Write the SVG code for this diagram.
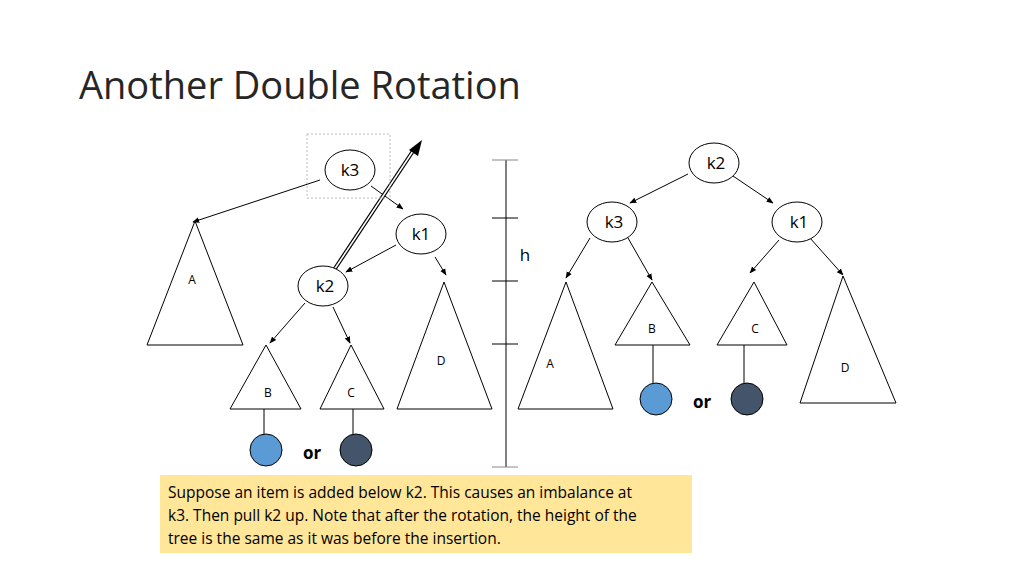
<svg xmlns="http://www.w3.org/2000/svg" width="1024" height="576" viewBox="0 0 1024 576">
<defs>
<marker id="ah" viewBox="0 0 10 10" refX="9" refY="5" markerWidth="7" markerHeight="7" orient="auto"><path d="M0,1 L10,5 L0,9 z" fill="#000"/></marker>
<style>
.n{fill:#fff;stroke:#000;stroke-width:1}
.t{fill:#fff;stroke:#000;stroke-width:1}
text{font-family:"Open Sans","Liberation Sans",sans-serif;fill:#000}
.k{font-size:17px;text-anchor:middle}
.s{font-size:12px;text-anchor:middle}
.e{stroke:#000;stroke-width:1;marker-end:url(#ah);fill:none}
.l{stroke:#000;stroke-width:1}
</style>
</defs>
<rect width="1024" height="576" fill="#fff"/>
<text x="79" y="99" style="font-size:38px;fill:#262626;font-family:'Open Sans','Liberation Sans',sans-serif">Another Double Rotation</text>
<g id="connectors">
<line class="e" x1="320" y1="180" x2="193" y2="222"/>
<line class="e" x1="371" y1="186" x2="403" y2="209"/>
<line class="e" x1="396" y1="245" x2="346" y2="272"/>
<line class="e" x1="435" y1="257" x2="446" y2="275"/>
<line class="e" x1="305" y1="303" x2="270" y2="343"/>
<line class="e" x1="333" y1="307" x2="350" y2="343"/>
<line class="l" x1="264" y1="409" x2="264" y2="434"/>
<line class="l" x1="353" y1="409" x2="353" y2="434"/>
<line class="e" x1="688" y1="174" x2="630" y2="203"/>
<line class="e" x1="733" y1="176" x2="773" y2="203"/>
<line class="e" x1="590" y1="238" x2="566" y2="278"/>
<line class="e" x1="628" y1="238" x2="652" y2="280"/>
<line class="e" x1="779" y1="240" x2="750" y2="273"/>
<line class="e" x1="810" y1="238" x2="843" y2="275"/>
<line class="l" x1="653" y1="345" x2="653" y2="383"/>
<line class="l" x1="744" y1="345" x2="744" y2="383"/>
<g id="bigarrow">
<line x1="334" y1="270" x2="415" y2="148" stroke="#000" stroke-width="4"/>
<line x1="334" y1="270" x2="415" y2="148" stroke="#fff" stroke-width="1.6"/>
<path d="M422,140 L418,156 L409,150 z" fill="#000"/>
</g>
</g>
<rect x="307" y="134" width="83" height="64" fill="none" stroke="#aaa" stroke-width="0.8" stroke-dasharray="2,2"/>
<g id="k3"><ellipse class="n" cx="350" cy="170" rx="25" ry="20"/><text class="k" x="350" y="176">k3</text></g>
<g id="k1"><ellipse class="n" cx="421" cy="234" rx="25" ry="20"/><text class="k" x="421" y="240">k1</text></g>
<g id="k2"><ellipse class="n" cx="323" cy="286" rx="25" ry="20"/><text class="k" x="325" y="292">k2</text></g>
<g id="A"><polygon class="t" points="195,221 147,345 243,345"/><text class="s" x="192" y="284">A</text></g>
<g id="B"><polygon class="t" points="266,345 230,409 301,409"/><text class="s" x="268" y="397">B</text></g>
<g id="C"><polygon class="t" points="351,345 320,409 384,409"/><text class="s" x="351" y="397">C</text></g>
<g id="D"><polygon class="t" points="444,282 397,409 492,409"/><text class="s" x="441" y="365">D</text></g>
<g id="c1"><circle cx="266" cy="450" r="16" fill="#5b9bd5" stroke="#000"/></g>
<g id="c2"><circle cx="356" cy="450" r="16" fill="#44546a" stroke="#000"/></g>
<text x="312" y="459" style="font-size:17px;font-weight:bold;text-anchor:middle">or</text>
<g id="scale" stroke="#000">
<line x1="506" y1="160" x2="506" y2="467"/>
<line x1="492" y1="160" x2="518" y2="160" stroke="#888"/>
<line x1="492" y1="218" x2="518" y2="218"/>
<line x1="492" y1="281" x2="518" y2="281"/>
<line x1="492" y1="344" x2="518" y2="344"/>
<line x1="492" y1="467" x2="518" y2="467" stroke="#888"/>
</g>
<text x="525" y="261" style="font-size:17px;text-anchor:middle">h</text>
<g id="rk2"><ellipse class="n" cx="714" cy="163" rx="25" ry="20"/><text class="k" x="716" y="169">k2</text></g>
<g id="rk3"><ellipse class="n" cx="612" cy="222" rx="25" ry="20"/><text class="k" x="614" y="228">k3</text></g>
<g id="rk1"><ellipse class="n" cx="797" cy="222" rx="25" ry="20"/><text class="k" x="799" y="228">k1</text></g>
<g id="rA"><polygon class="t" points="566,282 518,409 613,409"/><text class="s" x="550" y="368">A</text></g>
<g id="rB"><polygon class="t" points="652,282 615,345 690,345"/><text class="s" x="652" y="333">B</text></g>
<g id="rC"><polygon class="t" points="754,282 717,345 787,345"/><text class="s" x="755" y="333">C</text></g>
<g id="rD"><polygon class="t" points="843,276 800,403 896,403"/><text class="s" x="845" y="372">D</text></g>
<g id="rc1"><circle cx="656" cy="399" r="16" fill="#5b9bd5" stroke="#000"/></g>
<g id="rc2"><circle cx="747" cy="399" r="16" fill="#44546a" stroke="#000"/></g>
<text x="702" y="408" style="font-size:17px;font-weight:bold;text-anchor:middle">or</text>
<g id="note">
<rect x="160" y="475" width="532" height="78" fill="#ffe699"/>
<text x="168" y="498" style="font-size:15.5px">Suppose an item is added below k2. This causes an imbalance at</text>
<text x="168" y="521" style="font-size:15.5px">k3. Then pull k2 up. Note that after the rotation, the height of the</text>
<text x="168" y="544" style="font-size:15.5px">tree is the same as it was before the insertion.</text>
</g>
</svg>
